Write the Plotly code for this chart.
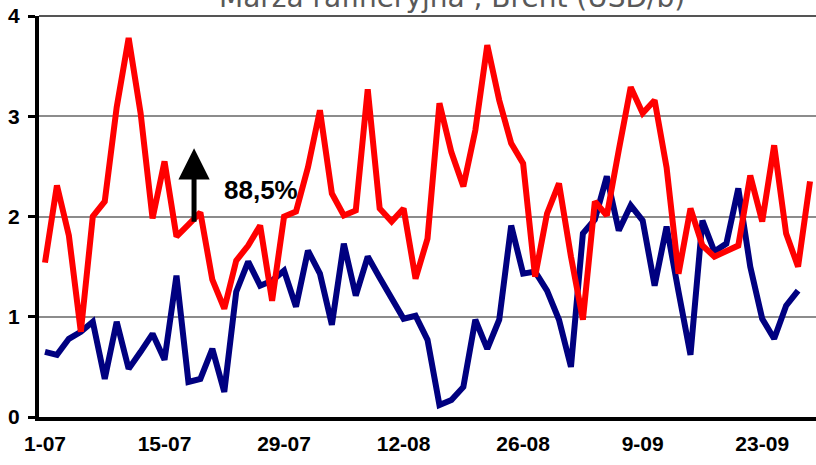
import pandas as pd
import plotly.graph_objects as go

# business days 1-07 .. 27-09 (2002)
dates = [f"{d.day}-{d.month:02d}" for d in pd.bdate_range("2002-07-01", "2002-09-27")]

marza = [1.54, 2.31, 1.81, 0.85, 2.00, 2.15, 3.09, 3.78, 3.03, 1.98,
         2.55, 1.80, 1.92, 2.04, 1.37, 1.08, 1.56, 1.71, 1.91, 1.16,
         2.00, 2.05, 2.49, 3.06, 2.23, 2.01, 2.06, 3.27, 2.08, 1.95,
         2.08, 1.38, 1.78, 3.13, 2.64, 2.30, 2.86, 3.71, 3.16, 2.73,
         2.53, 1.40, 2.03, 2.33, 1.60, 0.97, 2.15, 2.01, 2.66, 3.29,
         3.03, 3.16, 2.49, 1.43, 2.08, 1.71, 1.60, 1.66, 1.71, 2.41,
         1.95, 2.71, 1.83, 1.50, 2.35]

brent = [0.65, 0.62, 0.78, 0.85, 0.95, 0.38, 0.95, 0.48, 0.65, 0.83,
         0.57, 1.41, 0.35, 0.38, 0.68, 0.25, 1.25, 1.55, 1.31, 1.36,
         1.46, 1.10, 1.66, 1.43, 0.92, 1.73, 1.21, 1.60, 1.39, 1.19,
         0.98, 1.01, 0.77, 0.12, 0.17, 0.30, 0.97, 0.68, 0.97, 1.91,
         1.43, 1.45, 1.26, 0.97, 0.50, 1.83, 1.97, 2.40, 1.86, 2.11,
         1.96, 1.31, 1.90, 1.25, 0.62, 1.96, 1.65, 1.73, 2.28, 1.50,
         0.98, 0.78, 1.11, 1.26]

tick_labels = ["1-07", "15-07", "29-07", "12-08", "26-08", "9-09", "23-09"]
y_ticks = [0, 1, 2, 3, 4]
title_text = "Marża rafineryjna , Brent (USD/b)"
change_text = "88,5%"

fig = go.Figure()
fig.add_trace(go.Scatter(x=dates[:len(brent)], y=brent, mode="lines",
                         line=dict(color="#000080", width=6), name="Brent"))
fig.add_trace(go.Scatter(x=dates, y=marza, mode="lines",
                         line=dict(color="#FF0000", width=6), name="Marża"))

fig.update_layout(
    width=816, height=465,
    margin=dict(l=39, r=0, t=16, b=48),
    paper_bgcolor="white", plot_bgcolor="white",
    showlegend=False,
    font=dict(family="Liberation Sans, Arial, sans-serif", color="black"),
)
fig.update_xaxes(
    type="category", range=[-0.5, len(dates) - 0.5], automargin=False,
    tickmode="array", tickvals=tick_labels, ticktext=tick_labels,
    showgrid=False, showline=True, linecolor="black", linewidth=4,
    ticks="", tickfont=dict(size=21, family="Liberation Sans, Arial", color="black", weight="bold"),
    ticklabelstandoff=5,
)
fig.update_yaxes(
    range=[0, 4], tickvals=y_ticks, ticktext=[str(v) for v in y_ticks], automargin=False,
    showgrid=True, gridcolor="#8c8c8c", gridwidth=1.5,
    showline=True, linecolor="black", linewidth=4,
    ticks="outside", ticklen=7, tickwidth=3, tickcolor="black",
    tickfont=dict(size=21, family="Liberation Sans, Arial", color="black", weight="bold"),
    ticklabelstandoff=4, zeroline=False,
)
# top border of plot area
fig.add_shape(type="line", xref="paper", yref="paper", x0=0, x1=1, y0=1, y1=1,
              line=dict(color="#555555", width=2))
# title (partly cut at top, as in the original)
fig.add_annotation(text=title_text, xref="paper", yref="paper", x=0.5315, y=1.046,
                   xanchor="center", yanchor="middle", showarrow=False,
                   font=dict(family="DejaVu Sans", size=28, color="#595959"))
# arrow
fig.add_annotation(x=12.47, y=2.68, xref="x", yref="y", text="", showarrow=True,
                   ax=0, ay=75, arrowhead=2, arrowsize=1.25, arrowwidth=5,
                   arrowcolor="black", standoff=0)
fig.add_annotation(x=18.1, y=2.26, xref="x", yref="y", text=change_text, showarrow=False,
                   xanchor="center", yanchor="middle",
                   font=dict(family="Liberation Sans, Arial", size=26, color="black", weight="bold"))

fig.write_html("out.html", config={"displayModeBar": False},
               post_script="document.body.style.margin='0';document.body.style.padding='0';")
